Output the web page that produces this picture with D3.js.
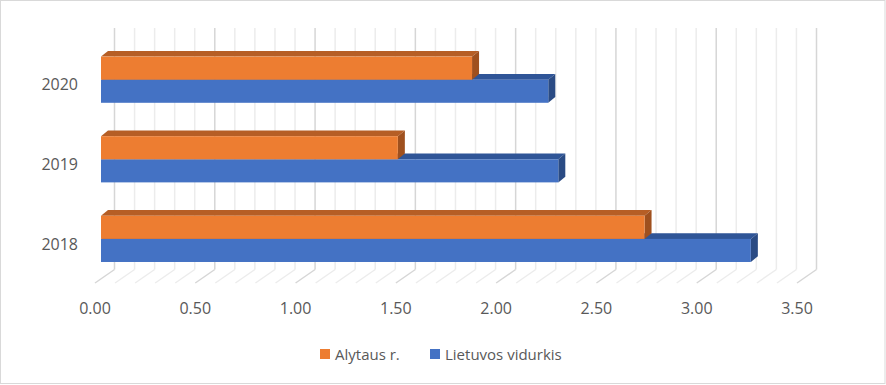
<!DOCTYPE html>
<html>
<head>
<meta charset="utf-8">
<script src="https://cdn.jsdelivr.net/npm/d3@7"></script>
<style>
    body { margin: 0; background: #fff; }
    svg text { font-family: "Open Sans", sans-serif; fill: #595959; }
</style>
</head>
<body>
<svg id="chart" width="886" height="385"></svg>
<script>
// values
const years = ["2018", "2019", "2020"];
const alytaus = [2.71, 1.48, 1.85];
const lietuva = [3.24, 2.28, 2.23];
const seriesNames = ["Alytaus r.", "Lietuvos vidurkis"];
const tickValues = [0, 0.5, 1, 1.5, 2, 2.5, 3, 3.5];

const svg = d3.select("#chart");

// frame
svg.append("rect")
    .attr("x", 0.5).attr("y", 0.5)
    .attr("width", 884.5).attr("height", 383)
    .attr("fill", "#fff").attr("stroke", "#d9d9d9");

// front floor edge, back wall and bar front planes
const xFront = d3.scaleLinear().domain([0, 3.5]).range([95, 797]);
const back = {dx: 19.5, top: 28, bottom: 269.5, front: 283};
const xBar = d3.scaleLinear().domain([0, 3.5]).range([101, 803]);

const y = d3.scaleBand()
    .domain(years.slice().reverse())
    .range([39.9, 278.7])
    .paddingInner(0.42)
    .paddingOuter(0.21);
const ySeries = d3.scaleBand().domain(seriesNames).range([0, y.bandwidth()]);

const colors = {
    "Alytaus r.": {front: "#ed7d31", top: "#b65e25", side: "#9f501e"},
    "Lietuvos vidurkis": {front: "#4472c4", top: "#2f5597", side: "#2a4b84"}
};

// grid lines on the wall and floor
const gridVals = d3.range(0, 36).map(d => d / 10);
const grid = svg.append("g");
gridVals.forEach(function (v) {
    const major = Math.round(v * 10) % 5 === 0;
    const col = major ? "#d6d6d6" : "#ececec";
    const bx = xFront(v) + back.dx;
    grid.append("line")
        .attr("x1", bx).attr("x2", bx)
        .attr("y1", back.top).attr("y2", back.bottom)
        .attr("stroke", col).attr("stroke-width", 1.5);
    grid.append("line")
        .attr("x1", bx).attr("y1", back.bottom)
        .attr("x2", xFront(v)).attr("y2", back.front)
        .attr("stroke", col).attr("stroke-width", 1.5);
});

// bars (blue below, drawn first)
const depth = {dx: 7, dy: 5.7};
const rows = years.map((yr, i) => ({year: yr, values: [
    {name: seriesNames[1], value: lietuva[i]},
    {name: seriesNames[0], value: alytaus[i]}
]}));

const bars = svg.append("g");
rows.forEach(function (row) {
    row.values.forEach(function (d) {
        const x0 = xBar(0), x1 = xBar(d.value);
        const top = y(row.year) + ySeries(d.name);
        const h = ySeries.bandwidth();
        const c = colors[d.name];
        bars.append("polygon")
            .attr("points", [[x0, top], [x1, top], [x1 + depth.dx, top - depth.dy], [x0 + depth.dx, top - depth.dy]].join(" "))
            .attr("fill", c.top);
        bars.append("polygon")
            .attr("points", [[x1, top], [x1 + depth.dx, top - depth.dy], [x1 + depth.dx, top + h - depth.dy], [x1, top + h]].join(" "))
            .attr("fill", c.side);
        bars.append("rect")
            .attr("x", x0).attr("y", top)
            .attr("width", x1 - x0).attr("height", h)
            .attr("fill", c.front);
    });
});

// category labels
svg.append("g").selectAll("text")
    .data(years)
    .join("text")
    .attr("x", 78)
    .attr("y", d => y(d) + y.bandwidth() / 2 + 5)
    .attr("dy", "0.35em")
    .attr("text-anchor", "end")
    .style("font-size", "16px")
    .text(d => d);

// value labels
svg.append("g").selectAll("text")
    .data(tickValues)
    .join("text")
    .attr("x", d => xFront(d))
    .attr("y", 313.5)
    .attr("text-anchor", "middle")
    .style("font-size", "16px")
    .text(d => d3.format(".2f")(d));

// legend
const legendX = [320, 430];
const legend = svg.append("g");
seriesNames.forEach(function (name, i) {
    legend.append("rect")
        .attr("x", legendX[i]).attr("y", 349)
        .attr("width", 10).attr("height", 10)
        .attr("fill", colors[name].front);
    legend.append("text")
        .attr("x", legendX[i] + 15).attr("y", 359.5)
        .style("font-size", "15px")
        .text(name);
});
</script>
</body>
</html>
